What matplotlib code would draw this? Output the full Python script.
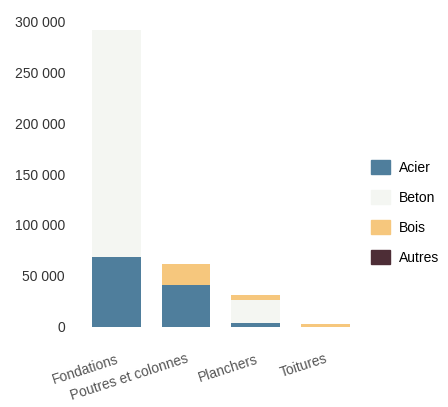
import matplotlib.pyplot as plt
import matplotlib.patches as mpatches
import numpy as np

plt.rcParams['font.family'] = ['Liberation Sans', 'DejaVu Sans']

categories = ['Fondations', 'Poutres et colonnes', 'Planchers', 'Toitures']
acier = [68000, 41000, 4000, 0]
beton = [224000, 0, 22000, 0]
bois = [0, 21000, 5000, 3000]
autres = [0, 0, 500, 0]
series_names = ['Acier', 'Beton', 'Bois', 'Autres']
colors = ['#4f7e9c', '#f4f6f2', '#f6c77d', '#4d2d36']
yticks = [0, 50000, 100000, 150000, 200000, 250000, 300000]

fig = plt.figure(figsize=(4.48, 4.07), dpi=100)
ax = fig.add_axes([0.17, 0.19, 0.635, 0.757])

x = np.arange(len(categories))
bottom = np.zeros(len(categories))
for vals, name, col in zip([acier, beton, bois, autres], series_names, colors):
    ax.bar(x, vals, 0.7, bottom=bottom, color=col, label=name)
    bottom += np.array(vals)

ax.set_xlim(-0.576, 3.51)
ax.set_ylim(-3000, 300000)
ax.set_yticks(yticks)
ax.set_yticklabels([f'{v:,}'.replace(',', ' ') for v in yticks], fontsize=10, color='#333333')
ax.set_xticks(x)
ax.set_xticklabels(categories, rotation=18, ha='right', rotation_mode='anchor',
                   fontsize=10, color='#555555')
ax.tick_params(length=0, axis='y', pad=8)
ax.tick_params(length=0, axis='x', pad=16)
for s in ax.spines.values():
    s.set_visible(False)

handles = [mpatches.Patch(color=c, label=n) for n, c in zip(series_names, colors)]
fig.legend(handles=handles, loc='center left', bbox_to_anchor=(0.8, 0.478),
           frameon=False, fontsize=10, handlelength=1.4, handleheight=1.2,
           labelspacing=1.1, handletextpad=0.6)

fig.savefig('out.png', dpi=100)
